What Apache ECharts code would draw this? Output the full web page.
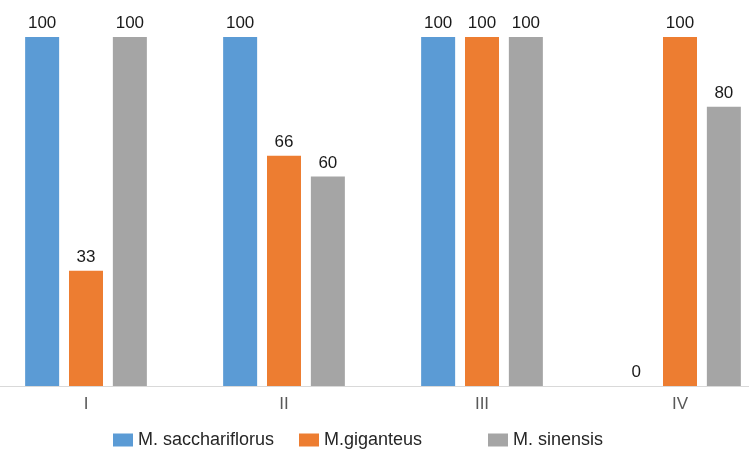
<!DOCTYPE html>
<html>
<head>
<meta charset="utf-8">
<script src="https://cdn.jsdelivr.net/npm/echarts@6/dist/echarts.min.js"></script>
<style>
  html, body { margin: 0; padding: 0; background: #fff; overflow: hidden; }
  /* the reference is cropped: plot runs past both edges */
  #chart { width: 792px; height: 450px; margin-left: -13px; }
</style>
</head>
<body>
<div id="chart"></div>
<script>
const categories = ['I', 'II', 'III', 'IV'];
const seriesNames = ['M. sacchariflorus', 'M.giganteus', 'M. sinensis'];
const sacchariflorus = [100, 100, 100, 0];
const giganteus = [33, 66, 100, 100];
const sinensis = [100, 60, 100, 80];

const colors = ['#5B9BD5', '#ED7D31', '#A5A5A5'];
const values = [sacchariflorus, giganteus, sinensis];

const chart = echarts.init(document.getElementById('chart'));

// legend boxes sit at 108, 294, 483 in page coords
const legendLeft = [121, 307, 496];

const option = {
  animation: false,
  backgroundColor: '#fff',
  textStyle: { fontFamily: 'Liberation Sans, Arial, sans-serif' },
  grid: { left: 0, right: 0, top: 37, bottom: 64, containLabel: false },
  legend: seriesNames.map((name, i) => ({
    data: [name],
    left: legendLeft[i],
    top: 426,
    itemWidth: 20,
    itemHeight: 13,
    itemGap: 8,
    icon: 'rect',
    textStyle: { color: '#262626', fontSize: 18 },
  })),
  xAxis: {
    type: 'category',
    data: categories,
    axisLine: { lineStyle: { color: '#D9D9D9', width: 1 } },
    axisTick: { show: false },
    axisLabel: { color: '#595959', fontSize: 17, margin: 10 },
  },
  yAxis: {
    type: 'value',
    min: 0,
    max: 100,
    show: false,
    splitLine: { show: false },
  },
  series: seriesNames.map((name, i) => ({
    name,
    type: 'bar',
    data: values[i],
    barWidth: 34,
    barGap: '29%',
    itemStyle: { color: colors[i] },
    label: {
      show: true,
      position: 'top',
      distance: 5,
      color: '#1a1a1a',
      fontSize: 17,
    },
  })),
};

chart.setOption(option);
</script>
</body>
</html>
